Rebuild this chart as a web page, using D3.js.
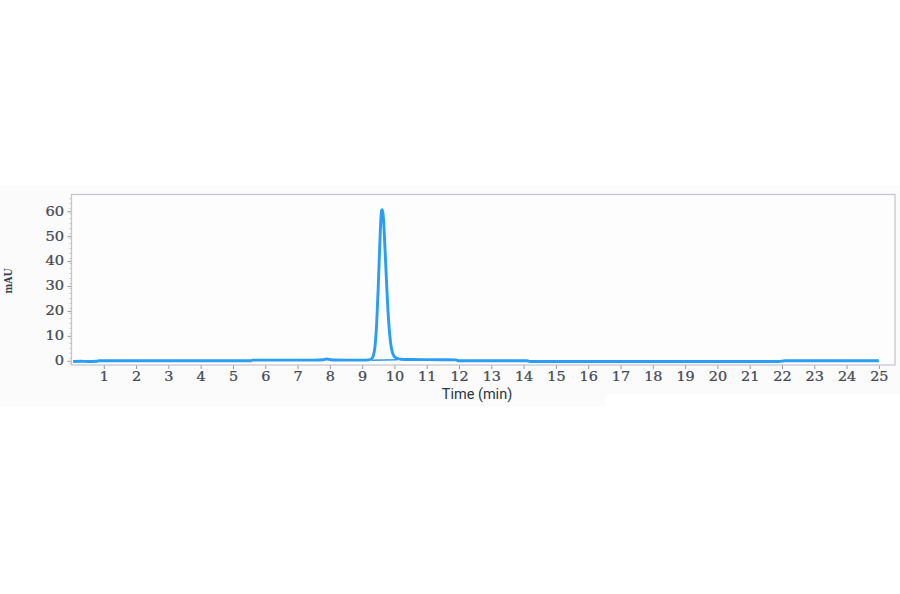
<!DOCTYPE html>
<html><head><meta charset="utf-8">
<script src="https://cdn.jsdelivr.net/npm/d3@7"></script>
<style>html,body{margin:0;padding:0;background:#fff;}svg{display:block;}</style>
</head><body>
<svg id="chart" width="900" height="594"></svg>
<script>
// Chromatogram trace (time in min, absorbance in mAU)
const times = [0.05,0.3,0.5,0.8,0.85,2,3,4,5,5.55,5.6,6.5,7.5,7.8,7.9,8.0,8.1,8.5,9.0,9.2,
  9.3,9.35,9.4,9.45,9.5,9.55,9.6,9.63,9.66,9.7,9.75,9.8,9.85,9.9,9.95,10.0,10.1,10.2,
  10.5,11,11.5,11.9,12.0,13,14.1,14.2,16,18,20,21.9,22.1,23,24,25];
const values = [-0.3,-0.2,-0.3,-0.2,0,0,0,0,0,0,0.25,0.25,0.25,0.4,0.7,0.5,0.3,0.25,0.25,0.35,
  0.9,2.2,6,15,30,48,60.3,60.6,57,47,33,20,11,5.5,2.8,1.6,0.9,0.6,
  0.5,0.45,0.4,0.35,0,0,0,-0.3,-0.3,-0.3,-0.3,-0.3,0,0,0,0];
// Integration baseline under the peak
const baseTimes = [9.3,10.1];
const baseValues = [0.2,0.4];
const xTicks = [1,2,3,4,5,6,7,8,9,10,11,12,13,14,15,16,17,18,19,20,21,22,23,24,25];
const yTicks = [0,10,20,30,40,50,60];
const xDomain = [0,25.5];
const yDomain = [-1.7,66.7];

const svg = d3.select("#chart");
const L = 71.5, R = 895, T = 194.5, B = 365;

// faint background panel
svg.append("rect").attr("x",0).attr("y",186).attr("width",900).attr("height",208).attr("fill","#fbfbfb");
svg.append("rect").attr("x",0).attr("y",394).attr("width",606).attr("height",12).attr("fill","#fbfbfb");
svg.append("rect").attr("x",L).attr("y",T).attr("width",R-L).attr("height",B-T).attr("fill","#fdfdfd");

const x = d3.scaleLinear().domain(xDomain).range([L,R]);
const y = d3.scaleLinear().domain(yDomain).range([B,T]);

// minor y ticks (dotted look on left axis)
const minor = d3.range(-1,67,2);
svg.append("g").selectAll("line").data(minor).join("line")
  .attr("x1",L-2).attr("x2",L).attr("y1",d=>y(d)).attr("y2",d=>y(d))
  .attr("stroke","#b8b8c0").attr("stroke-width",0.8);

const xAxis = svg.append("g").attr("transform",`translate(0,${B})`)
  .call(d3.axisBottom(x).tickValues(xTicks).tickSize(4).tickPadding(3).tickFormat(d3.format("d")));
const yAxis = svg.append("g").attr("transform",`translate(${L},0)`)
  .call(d3.axisLeft(y).tickValues(yTicks).tickSize(4).tickPadding(3).tickFormat(d3.format("d")));
[xAxis,yAxis].forEach(g=>{
  g.select(".domain").remove();
  g.selectAll(".tick line").attr("stroke","#9a9aa4");
  g.selectAll(".tick text").attr("fill","#454a56")
    .style("font-family","'DejaVu Serif', serif").style("font-size","12.2px")
    .attr("stroke","#454a56").attr("stroke-width",0.25);
});
xAxis.selectAll(".tick text").attr("transform","scale(1.18,1)").attr("dy","0.71em");
yAxis.selectAll(".tick text").attr("transform","scale(1.2,1)").attr("x",-6.2);

// frame
svg.append("rect").attr("x",L).attr("y",T).attr("width",R-L).attr("height",B-T)
  .attr("fill","none").attr("stroke","#c4c4cc").attr("stroke-width",1.2);

const line = d3.line().x(d=>x(d[0])).y(d=>y(d[1])).curve(d3.curveMonotoneX);
svg.append("path").datum(baseTimes.map((t,i)=>[t,baseValues[i]]))
  .attr("d",line).attr("fill","none").attr("stroke","#2a9df4").attr("stroke-width",1.6);
svg.append("path").datum(times.map((t,i)=>[t,values[i]]))
  .attr("d",line).attr("fill","none").attr("stroke","#2a9df4").attr("stroke-width",2.9)
  .attr("stroke-linejoin","round");

svg.append("text").attr("x",477).attr("y",399).attr("text-anchor","middle")
  .style("font-family","Roboto, sans-serif").style("font-size","14.5px").attr("fill","#2e3440")
  .text("Time (min)");
svg.append("text").attr("transform","translate(12,281) rotate(-90) scale(0.85,1)")
  .attr("text-anchor","middle")
  .style("font-family","'DejaVu Serif', serif").style("font-size","11px").style("font-weight","bold")
  .attr("fill","#3a3f4a").text("mAU");
</script>
</body></html>
